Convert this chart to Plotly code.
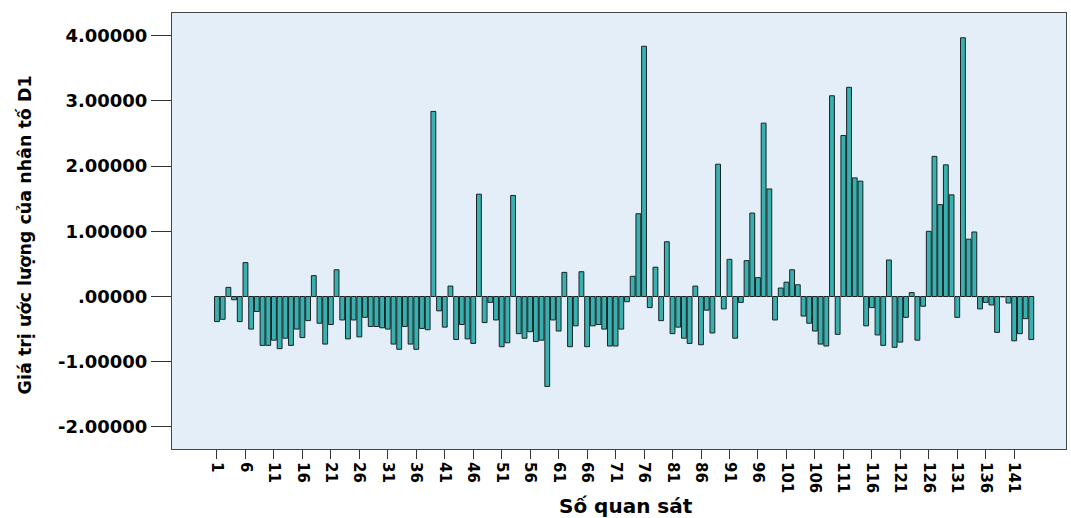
import plotly.graph_objects as go

observations = list(range(1, 145))
values = [
    -0.385, -0.35, 0.14, -0.05, -0.385, 0.52, -0.50, -0.23, -0.75, -0.75,
    -0.67, -0.80, -0.64, -0.75, -0.50, -0.63, -0.37, 0.32, -0.41, -0.73,
    -0.43, 0.41, -0.36, -0.65, -0.36, -0.62, -0.32, -0.46, -0.46, -0.48,
    -0.50, -0.73, -0.81, -0.46, -0.73, -0.81, -0.49, -0.51, 2.84, -0.22,
    -0.47, 0.16, -0.66, -0.43, -0.65, -0.72, 1.57, -0.40, -0.09, -0.36,
    -0.77, -0.71, 1.55, -0.57, -0.64, -0.54, -0.69, -0.67, -1.38, -0.36,
    -0.53, 0.37, -0.77, -0.45, 0.38, -0.77, -0.45, -0.43, -0.50, -0.76,
    -0.76, -0.50, -0.08, 0.31, 1.27, 3.84, -0.17, 0.45, -0.37, 0.84,
    -0.57, -0.47, -0.64, -0.72, 0.16, -0.74, -0.21, -0.56, 2.03, -0.19,
    0.57, -0.64, -0.09, 0.55, 1.28, 0.29, 2.66, 1.65, -0.36, 0.13,
    0.22, 0.41, 0.18, -0.30, -0.41, -0.53, -0.73, -0.76, 3.08, -0.58,
    2.47, 3.21, 1.82, 1.77, -0.45, -0.17, -0.59, -0.75, 0.56, -0.78,
    -0.70, -0.32, 0.06, -0.67, -0.15, 1.00, 2.15, 1.41, 2.02, 1.56,
    -0.32, 3.97, 0.88, 0.99, -0.19, -0.09, -0.13, -0.55, -0.005, -0.10,
    -0.68, -0.57, -0.34, -0.66,
]

x_tick_vals = list(range(1, 142, 5))
x_tick_text = [str(v) for v in x_tick_vals]
y_tick_vals = [-2, -1, 0, 1, 2, 3, 4]
y_tick_text = ["-2.00000", "-1.00000", ".00000", "1.00000", "2.00000", "3.00000", "4.00000"]

FONT = "DejaVu Sans"

fig = go.Figure(
    go.Bar(
        x=observations,
        y=values,
        marker=dict(color="#38B0B0", line=dict(color="#1A2222", width=1)),
        showlegend=False,
    )
)

fig.update_layout(
    width=1071,
    height=518,
    margin=dict(l=172, r=5, t=13, b=69),
    paper_bgcolor="white",
    plot_bgcolor="#E3EEF9",
    bargap=0.15,
    font=dict(family=FONT, color="black"),
    xaxis=dict(
        range=[-6.9, 150.1],
        tickmode="array",
        tickvals=x_tick_vals,
        ticktext=x_tick_text,
        tickangle=90,
        ticks="outside",
        ticklen=9,
        tickcolor="#333333",
        tickfont=dict(family=FONT, size=15, color="black", weight="bold"),
        showgrid=False,
        zeroline=False,
        showline=True,
        linecolor="#444444",
        linewidth=1,
        mirror=True,
    ),
    yaxis=dict(
        range=[-2.34, 4.35],
        tickmode="array",
        tickvals=y_tick_vals,
        ticktext=y_tick_text,
        ticks="outside",
        ticklen=20,
        tickcolor="#333333",
        tickfont=dict(family=FONT, size=18, color="black", weight="bold"),
        showgrid=False,
        zeroline=False,
        showline=True,
        linecolor="#444444",
        linewidth=1,
        mirror=True,
    ),
    annotations=[
        dict(
            text="Giá trị ước lượng của nhân tố D1",
            xref="paper", yref="paper",
            x=-0.1644, y=0.49,
            xanchor="center", yanchor="middle",
            textangle=-90,
            showarrow=False,
            font=dict(family=FONT, size=17.5, color="black", weight="bold"),
        ),
        dict(
            text="Số quan sát",
            xref="paper", yref="paper",
            x=0.508, y=-0.131,
            xanchor="center", yanchor="middle",
            showarrow=False,
            font=dict(family=FONT, size=20, color="black", weight="bold"),
        ),
    ],
)

fig.write_html("out.html")
